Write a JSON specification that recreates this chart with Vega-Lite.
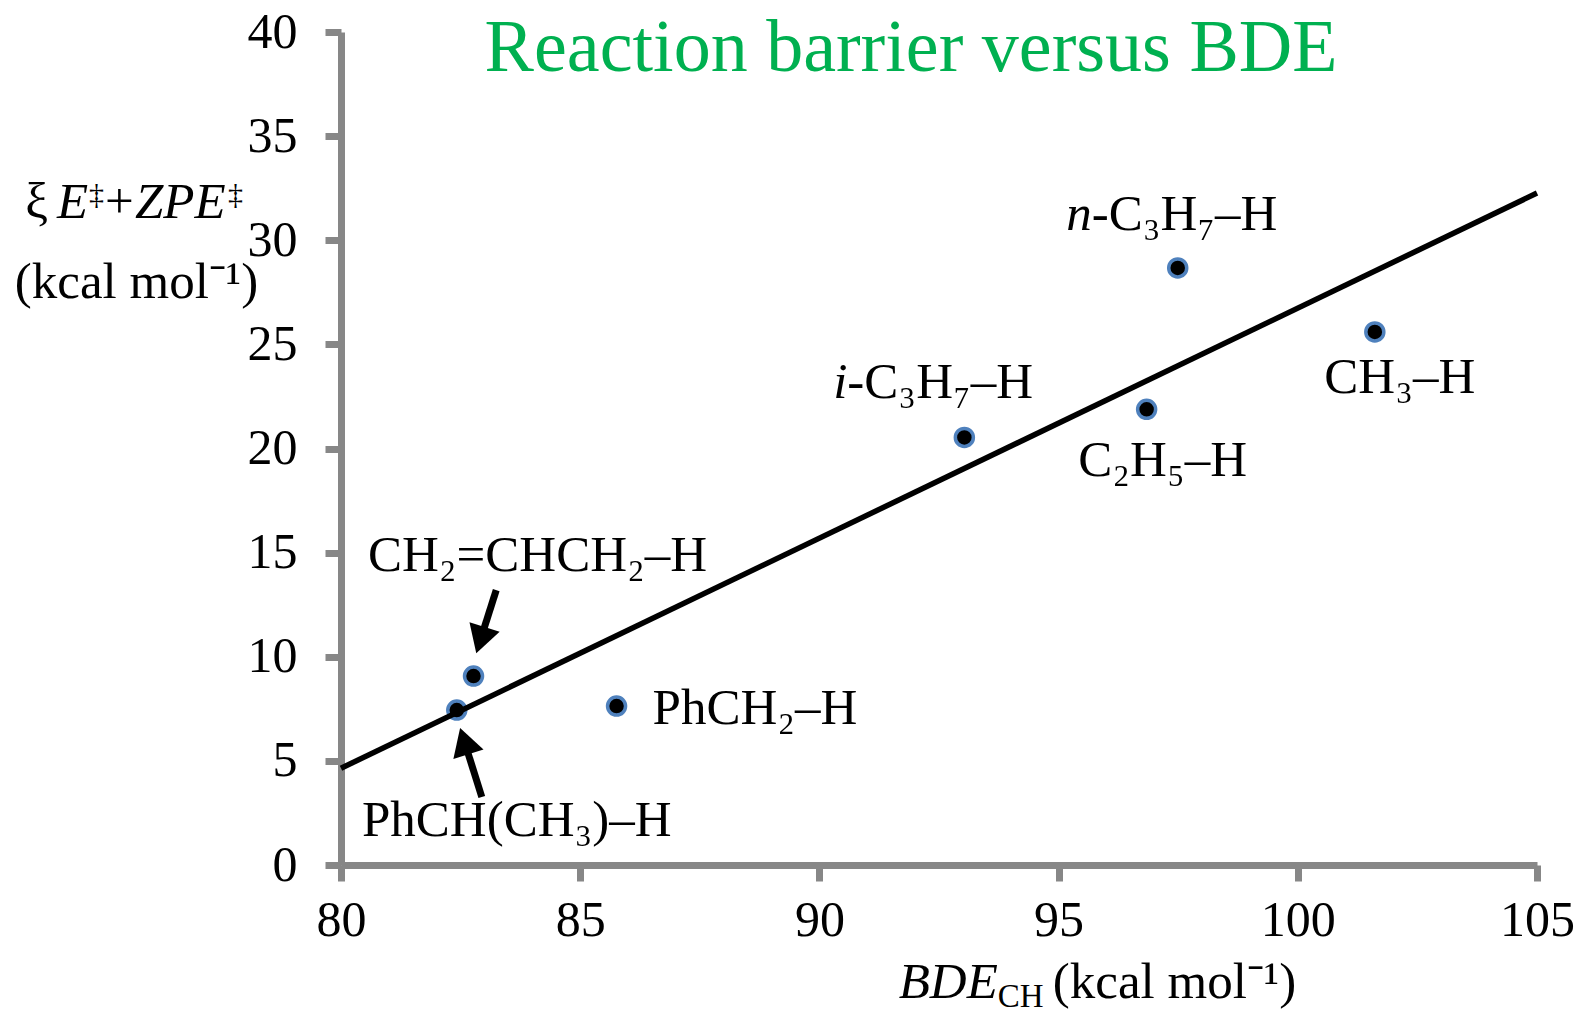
{
  "$schema": "https://vega.github.io/schema/vega-lite/v6.json",
  "autosize": "none",
  "width": 1196,
  "height": 833,
  "padding": {"left": 341, "top": 32, "right": 43, "bottom": 155},
  "background": "white",
  "config": {
    "font": "Liberation Serif",
    "view": {"stroke": null},
    "text": {"font": "Liberation Serif", "color": "black"}
  },
  "data": {
    "values": [
      {"species": "PhCH(CH₃)–H", "prefix": "", "formula": "PhCH(CH₃)–H", "bde": 82.42, "barrier": 7.44},
      {"species": "CH₂=CHCH₂–H", "prefix": "", "formula": "CH₂=CHCH₂–H", "bde": 82.77, "barrier": 9.07},
      {"species": "PhCH₂–H", "prefix": "", "formula": "PhCH₂–H", "bde": 85.76, "barrier": 7.63},
      {"species": "i-C₃H₇–H", "prefix": "i", "formula": "-C₃H₇–H", "bde": 93.03, "barrier": 20.53},
      {"species": "C₂H₅–H", "prefix": "", "formula": "C₂H₅–H", "bde": 96.84, "barrier": 21.88},
      {"species": "n-C₃H₇–H", "prefix": "n", "formula": "-C₃H₇–H", "bde": 97.49, "barrier": 28.67},
      {"species": "CH₃–H", "prefix": "", "formula": "CH₃–H", "bde": 101.61, "barrier": 25.6}
    ]
  },
  "layer": [
    {
      "encoding": {
        "x": {
          "field": "bde",
          "type": "quantitative",
          "scale": {"domain": [80, 105], "nice": false, "zero": false},
          "axis": {
            "title": null,
            "values": [80, 85, 90, 95, 100, 105],
            "grid": false,
            "domainColor": "#878787",
            "domainWidth": 7,
            "tickColor": "#878787",
            "tickWidth": 7,
            "tickSize": 16,
            "labelFont": "Liberation Serif",
            "labelFontSize": 50,
            "labelColor": "black",
            "labelPadding": 14,
            "labelFlush": false,
            "labelOverlap": false
          }
        },
        "y": {
          "field": "barrier",
          "type": "quantitative",
          "scale": {"domain": [0, 40], "nice": false},
          "axis": {
            "title": null,
            "values": [0, 5, 10, 15, 20, 25, 30, 35, 40],
            "grid": false,
            "domainColor": "#878787",
            "domainWidth": 7,
            "tickColor": "#878787",
            "tickWidth": 7,
            "tickSize": 16,
            "labelFont": "Liberation Serif",
            "labelFontSize": 50,
            "labelColor": "black",
            "labelPadding": 28,
            "labelFlush": false,
            "labelOverlap": false
          }
        }
      },
      "layer": [
        {
          "mark": {"type": "circle", "size": 324, "fill": "black", "stroke": "#4F81BD", "strokeWidth": 3.5, "opacity": 1}
        },
        {
          "transform": [{"regression": "barrier", "on": "bde", "extent": [80, 105]}],
          "mark": {"type": "line", "color": "black", "strokeWidth": 5.5}
        },
        {
          "transform": [{"filter": "datum.species === 'CH₂=CHCH₂–H'"}],
          "mark": {"type": "rule", "color": "black", "strokeWidth": 7, "xOffset": 22.7, "yOffset": -86, "x2Offset": 10, "y2Offset": -46},
          "encoding": {"x2": {"field": "bde"}, "y2": {"field": "barrier"}}
        },
        {
          "transform": [{"filter": "datum.species === 'CH₂=CHCH₂–H'"}],
          "mark": {"type": "point", "shape": "triangle-up", "filled": true, "color": "black", "opacity": 1, "size": 1000, "angle": 197.6, "xOffset": 6.9, "yOffset": -36}
        },
        {
          "transform": [{"filter": "datum.species === 'PhCH(CH₃)–H'"}],
          "mark": {"type": "rule", "color": "black", "strokeWidth": 7, "xOffset": 25, "yOffset": 87, "x2Offset": 10.6, "y2Offset": 40.9},
          "encoding": {"x2": {"field": "bde"}, "y2": {"field": "barrier"}}
        },
        {
          "transform": [{"filter": "datum.species === 'PhCH(CH₃)–H'"}],
          "mark": {"type": "point", "shape": "triangle-up", "filled": true, "color": "black", "opacity": 1, "size": 1000, "angle": 342.3, "xOffset": 7.5, "yOffset": 31.1}
        },
        {
          "transform": [{"filter": "datum.species === 'PhCH(CH₃)–H'"}],
          "mark": {"type": "text", "fontSize": 51, "align": "center", "baseline": "alphabetic", "dx": 60, "dy": 126},
          "encoding": {"text": {"field": "formula"}}
        },
        {
          "transform": [{"filter": "datum.species === 'CH₂=CHCH₂–H'"}],
          "mark": {"type": "text", "fontSize": 51, "align": "center", "baseline": "alphabetic", "dx": 64, "dy": -105},
          "encoding": {"text": {"field": "formula"}}
        },
        {
          "transform": [{"filter": "datum.species === 'PhCH₂–H'"}],
          "mark": {"type": "text", "fontSize": 51, "align": "left", "baseline": "alphabetic", "dx": 36, "dy": 18},
          "encoding": {"text": {"field": "formula"}}
        },
        {
          "transform": [{"filter": "datum.species === 'C₂H₅–H'"}],
          "mark": {"type": "text", "fontSize": 51, "align": "center", "baseline": "alphabetic", "dx": 16, "dy": 67},
          "encoding": {"text": {"field": "formula"}}
        },
        {
          "transform": [{"filter": "datum.species === 'CH₃–H'"}],
          "mark": {"type": "text", "fontSize": 51, "align": "center", "baseline": "alphabetic", "dx": 25, "dy": 61},
          "encoding": {"text": {"field": "formula"}}
        },
        {
          "transform": [{"filter": "datum.species === 'i-C₃H₇–H'"}],
          "mark": {"type": "text", "fontSize": 51, "fontStyle": "italic", "align": "right", "baseline": "alphabetic", "dx": -117, "dy": -39},
          "encoding": {"text": {"field": "prefix"}}
        },
        {
          "transform": [{"filter": "datum.species === 'i-C₃H₇–H'"}],
          "mark": {"type": "text", "fontSize": 51, "align": "left", "baseline": "alphabetic", "dx": -117, "dy": -39},
          "encoding": {"text": {"field": "formula"}}
        },
        {
          "transform": [{"filter": "datum.species === 'n-C₃H₇–H'"}],
          "mark": {"type": "text", "fontSize": 51, "fontStyle": "italic", "align": "right", "baseline": "alphabetic", "dx": -86, "dy": -38},
          "encoding": {"text": {"field": "prefix"}}
        },
        {
          "transform": [{"filter": "datum.species === 'n-C₃H₇–H'"}],
          "mark": {"type": "text", "fontSize": 51, "align": "left", "baseline": "alphabetic", "dx": -86, "dy": -38},
          "encoding": {"text": {"field": "formula"}}
        }
      ]
    },
    {
      "data": {"values": [{"piece": "Reaction barrier versus BDE"}]},
      "mark": {"type": "text", "fontSize": 74, "color": "#00B050", "align": "center", "baseline": "alphabetic", "dy": 39},
      "encoding": {"x": {"datum": 91.915, "type": "quantitative"}, "y": {"datum": 40, "type": "quantitative"}, "text": {"field": "piece"}}
    },
    {
      "data": {"values": [{"piece": "BDE"}]},
      "mark": {"type": "text", "fontSize": 51, "fontStyle": "italic", "align": "right", "baseline": "alphabetic", "dy": 133},
      "encoding": {"x": {"datum": 93.73, "type": "quantitative"}, "y": {"datum": 0, "type": "quantitative"}, "text": {"field": "piece"}}
    },
    {
      "data": {"values": [{"piece": "CH"}]},
      "mark": {"type": "text", "fontSize": 33, "align": "left", "baseline": "alphabetic", "dy": 142},
      "encoding": {"x": {"datum": 93.73, "type": "quantitative"}, "y": {"datum": 0, "type": "quantitative"}, "text": {"field": "piece"}}
    },
    {
      "data": {"values": [{"piece": "(kcal mol⁻¹)"}]},
      "mark": {"type": "text", "fontSize": 51, "align": "left", "baseline": "alphabetic", "dx": 55, "dy": 133},
      "encoding": {"x": {"datum": 93.73, "type": "quantitative"}, "y": {"datum": 0, "type": "quantitative"}, "text": {"field": "piece"}}
    },
    {
      "data": {"values": [{"piece": "ξ"}]},
      "mark": {"type": "text", "fontSize": 51, "align": "right", "baseline": "alphabetic", "dx": -293, "dy": 186},
      "encoding": {"x": {"datum": 80, "type": "quantitative"}, "y": {"datum": 40, "type": "quantitative"}, "text": {"field": "piece"}}
    },
    {
      "data": {"values": [{"piece": "E"}]},
      "mark": {"type": "text", "fontSize": 51, "fontStyle": "italic", "align": "left", "baseline": "alphabetic", "dx": -284, "dy": 186},
      "encoding": {"x": {"datum": 80, "type": "quantitative"}, "y": {"datum": 40, "type": "quantitative"}, "text": {"field": "piece"}}
    },
    {
      "data": {"values": [{"piece": "‡"}]},
      "mark": {"type": "text", "fontSize": 30, "align": "left", "baseline": "alphabetic", "dx": -252, "dy": 172},
      "encoding": {"x": {"datum": 80, "type": "quantitative"}, "y": {"datum": 40, "type": "quantitative"}, "text": {"field": "piece"}}
    },
    {
      "data": {"values": [{"piece": "+"}]},
      "mark": {"type": "text", "fontSize": 51, "align": "left", "baseline": "alphabetic", "dx": -236, "dy": 186},
      "encoding": {"x": {"datum": 80, "type": "quantitative"}, "y": {"datum": 40, "type": "quantitative"}, "text": {"field": "piece"}}
    },
    {
      "data": {"values": [{"piece": "ZPE"}]},
      "mark": {"type": "text", "fontSize": 51, "fontStyle": "italic", "align": "left", "baseline": "alphabetic", "dx": -206, "dy": 186},
      "encoding": {"x": {"datum": 80, "type": "quantitative"}, "y": {"datum": 40, "type": "quantitative"}, "text": {"field": "piece"}}
    },
    {
      "data": {"values": [{"piece": "‡"}]},
      "mark": {"type": "text", "fontSize": 30, "align": "left", "baseline": "alphabetic", "dx": -113, "dy": 172},
      "encoding": {"x": {"datum": 80, "type": "quantitative"}, "y": {"datum": 40, "type": "quantitative"}, "text": {"field": "piece"}}
    },
    {
      "data": {"values": [{"piece": "(kcal mol⁻¹)"}]},
      "mark": {"type": "text", "fontSize": 51, "align": "center", "baseline": "alphabetic", "dx": -204.5, "dy": 266},
      "encoding": {"x": {"datum": 80, "type": "quantitative"}, "y": {"datum": 40, "type": "quantitative"}, "text": {"field": "piece"}}
    }
  ]
}
